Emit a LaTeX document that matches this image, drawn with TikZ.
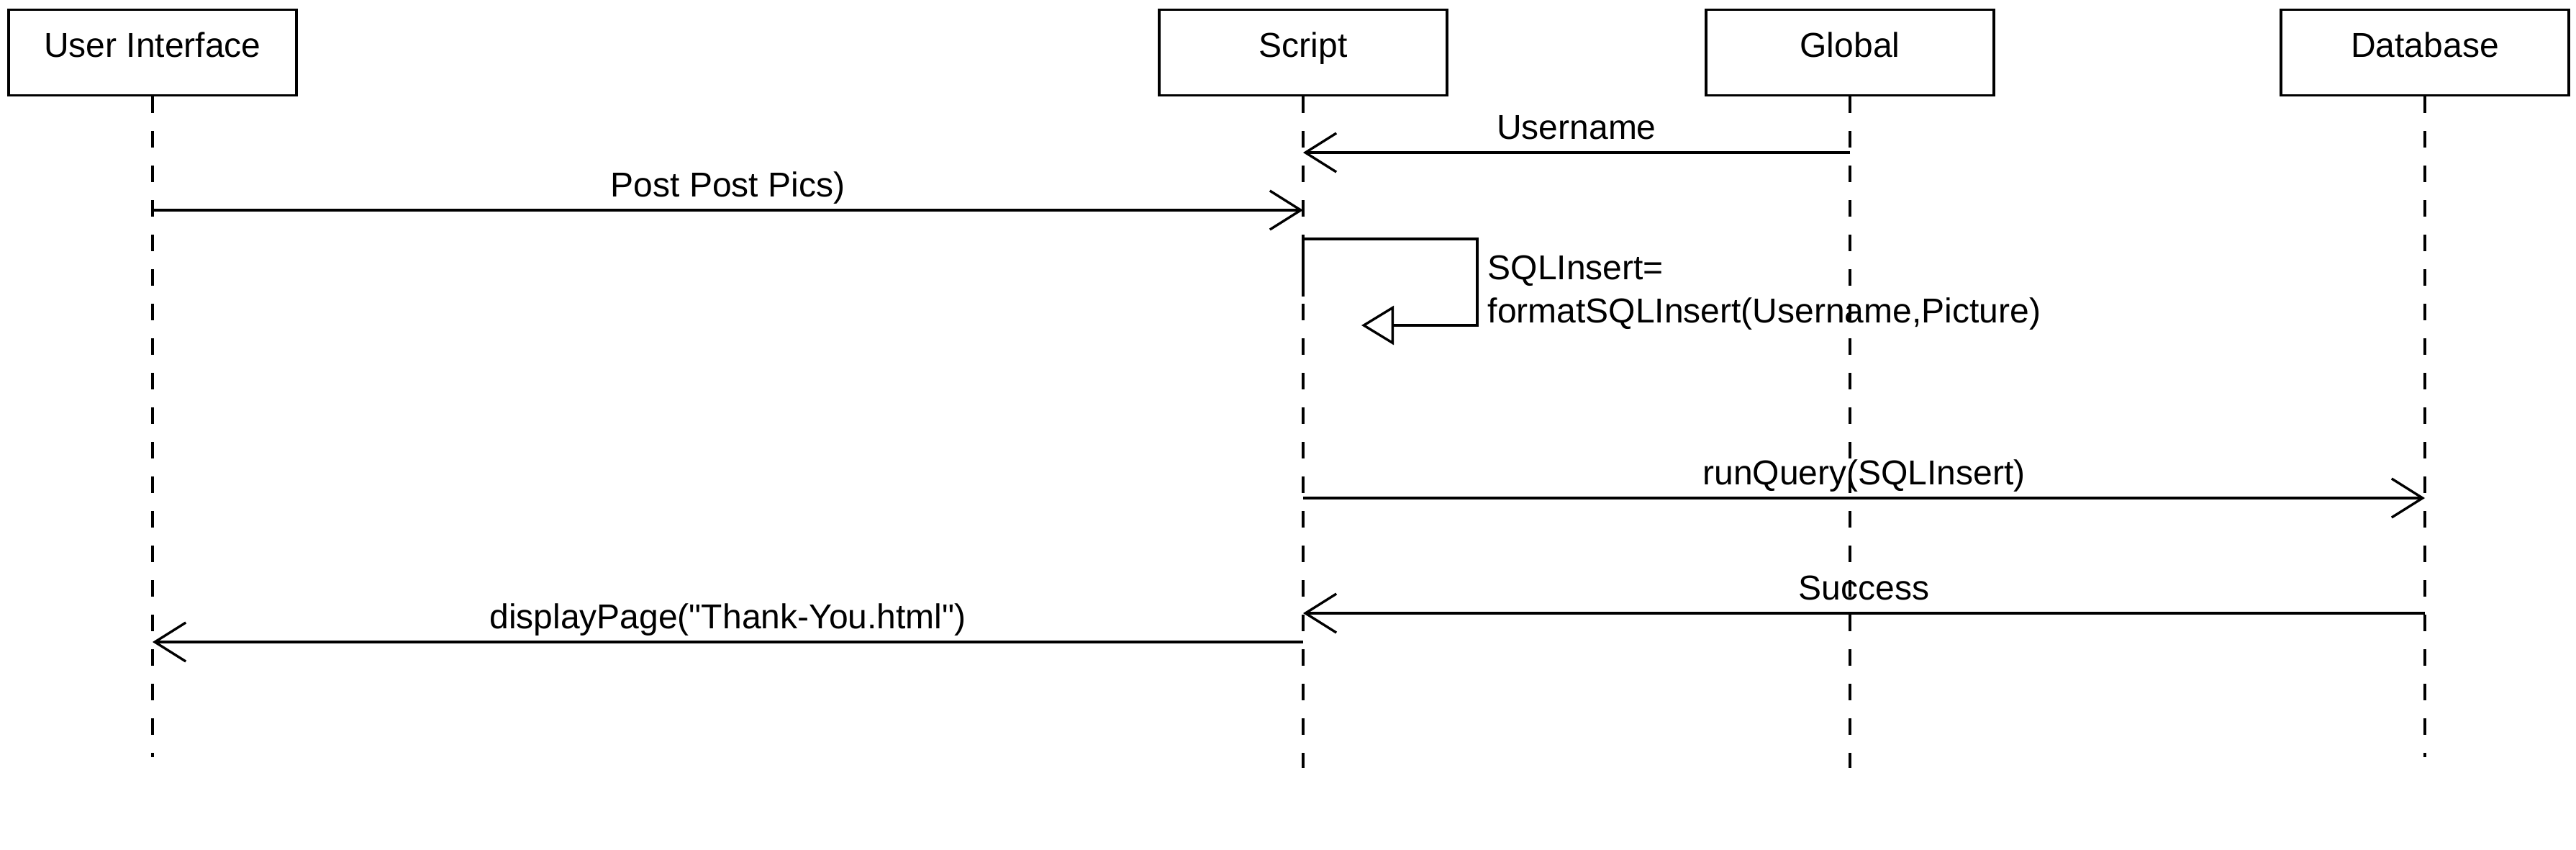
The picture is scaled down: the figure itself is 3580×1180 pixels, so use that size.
\documentclass[tikz,border=0pt]{standalone}
\usepackage{fontspec}
\setmainfont{Liberation Sans}
\usetikzlibrary{arrows.meta}
\begin{document}
\begin{tikzpicture}[x=0.25pt,y=-0.25pt,
  every node/.style={font=\fontsize{12pt}{15pt}\selectfont},
  actor/.style={draw, line width=0.85pt, rectangle, minimum width=100pt,
    inner xsep=0pt, inner ysep=0pt, text height=16.5pt, text depth=13.25pt, anchor=north},
  lifeline/.style={line width=0.85pt, dash pattern=on 5.75pt off 6.25pt},
  msg/.style={line width=0.85pt, -{Straight Barb[length=10.75pt,width=13.5pt]}},
  selfmsg/.style={line width=0.85pt, -{Triangle[open,length=11.25pt,width=13.5pt,fill=white]}},
  lbl/.style={midway, anchor=base, yshift=4.75pt, inner sep=0pt}]
\useasboundingbox (0,0) rectangle (3580,1180);
% actors
\node[actor] (ui) at (212,12) {User Interface};
\node[actor] (script) at (1811,12) {Script};
\node[actor] (global) at (2571,12) {Global};
\node[actor] (db) at (3370,12) {Database};
% lifeline ends
\coordinate (ui-end) at (212,1052);
\coordinate (script-end) at (1811,1067);
\coordinate (global-end) at (2571,1067);
\coordinate (db-end) at (3370,1052);
\draw[lifeline] (ui.south) -- (ui-end);
\draw[lifeline] (script.south) -- (script-end);
\draw[lifeline] (global.south) -- (global-end);
\draw[lifeline] (db.south) -- (db-end);
% message points
\coordinate (g1) at (2571,212);  \coordinate (s1) at (1811,212);
\coordinate (u2) at (212,292);   \coordinate (s2) at (1811,292);
\coordinate (s3z) at (1811,412);
\coordinate (s3) at (1811,332);  \coordinate (s3a) at (2053,332);
\coordinate (s3b) at (2053,452); \coordinate (s3c) at (1892,452);
\coordinate (s4) at (1811,692);  \coordinate (d4) at (3370,692);
\coordinate (d5) at (3370,852);  \coordinate (s5) at (1811,852);
\coordinate (s6) at (1811,892);  \coordinate (u6) at (212,892);
% messages
\draw[msg] (g1) -- node[lbl] (l1) {Username} (s1);
\draw[msg] (u2) -- node[lbl] (l2) {Post Post Pics)} (s2);
\draw[selfmsg] (s3z) -- (s3) -- (s3a) -- (s3b) -- (s3c);
\node[anchor=base west, align=left, inner sep=0pt] (l3) at (2067,448) {SQLInsert=\\formatSQLInsert(Username,Picture)};
\draw[msg] (s4) -- node[lbl] (l4) {runQuery(SQLInsert)} (d4);
\draw[msg] (d5) -- node[lbl] (l5) {Success} (s5);
\draw[msg] (s6) -- node[lbl] (l6) {displayPage(\textquotedbl Thank-You.html\textquotedbl)} (u6);
\end{tikzpicture}
\end{document}
